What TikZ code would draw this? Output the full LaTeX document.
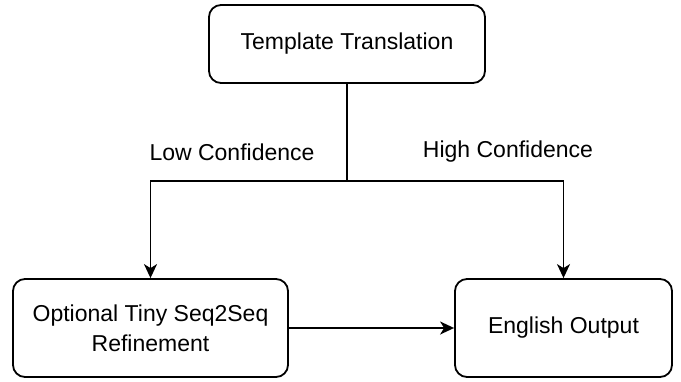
\documentclass[tikz,border=0pt]{standalone}
\usepackage{fontspec}
\setmainfont{Liberation Sans}
\usetikzlibrary{arrows.meta}
\begin{document}
\begin{tikzpicture}[x=1pt,y=-1pt,
  box/.style={draw=black,line width=1.8pt,rounded corners=12pt,fill=white,align=center,
    font=\fontsize{23}{28}\selectfont,inner sep=0pt},
  lbl/.style={font=\fontsize{23}{28}\selectfont,inner sep=0pt},
  conn/.style={line width=1.8pt,draw=black},
  arr/.style={conn,-{Stealth[length=14pt,width=13pt,inset=4pt]}}]
\useasboundingbox (0,0) rectangle (681,381);
\node[box,minimum width=276pt,minimum height=78pt] (tt) at (347,44) {Template Translation};
\node[box,minimum width=275pt,minimum height=98pt] (opt) at (150.5,328) {Optional Tiny Seq2Seq\\[2pt]Refinement};
\node[box,minimum width=217pt,minimum height=98pt] (eng) at (563.5,328) {English Output};
\coordinate (split) at (347,181);
\node[lbl] (low) at (232,152) {Low Confidence};
\node[lbl] (high) at (508,152) {High Confidence};
\draw[conn] (tt.south) -- (split);
\draw[arr] (split) -| (opt.north);
\draw[arr] (split) -| (eng.north);
\draw[arr] (opt.east) -- (eng.west);
\end{tikzpicture}
\end{document}
